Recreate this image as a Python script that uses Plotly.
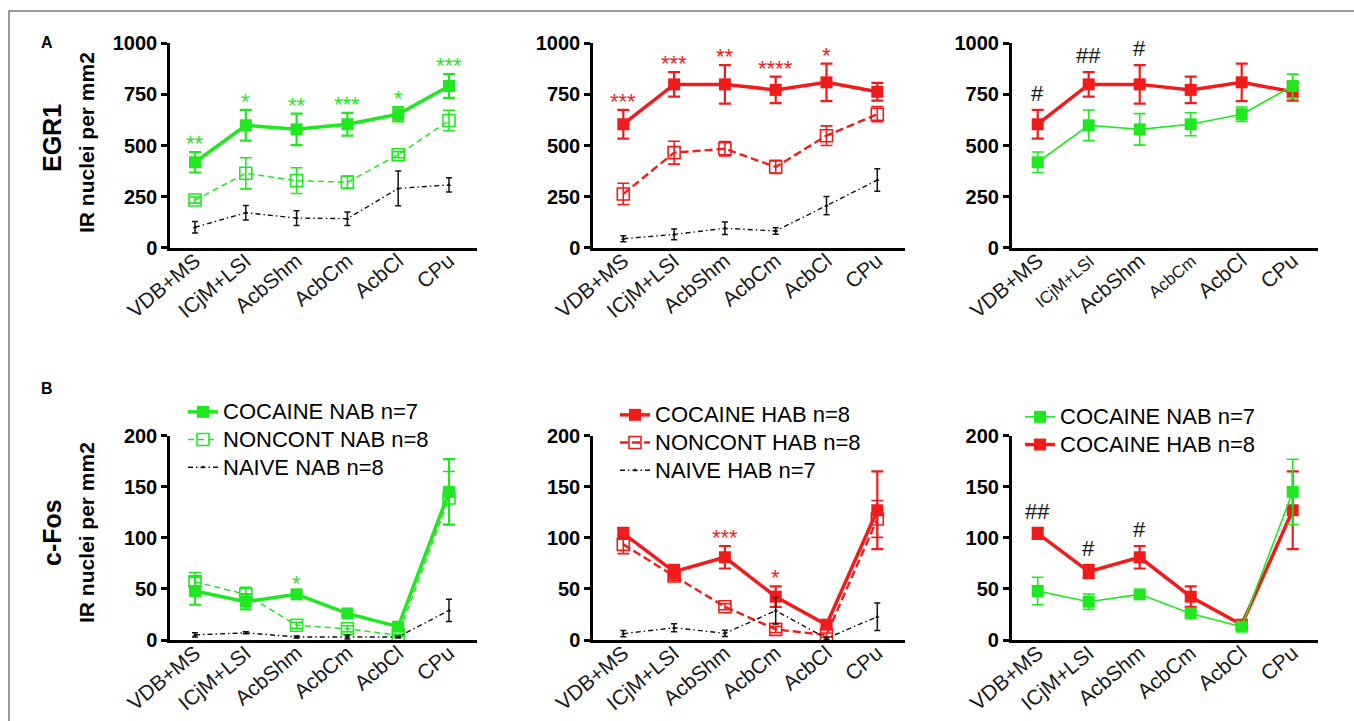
import plotly.graph_objects as go

W, H = 1354, 721

categories = ["VDB+MS", "ICjM+LSI", "AcbShm", "AcbCm", "AcbCl", "CPu"]
egr1_ticks = [0, 250, 500, 750, 1000]
cfos_ticks = [0, 50, 100, 150, 200]

# EGR1 (IR nuclei per mm2)
egr1_coc_nab = [418, 599, 579, 604, 653, 791]
egr1_coc_nab_err = [50, 75, 77, 56, 35, 58]
egr1_non_nab = [233, 364, 328, 320, 455, 622]
egr1_non_nab_err = [15, 76, 63, 30, 15, 50]
egr1_nai_nab = [100, 171, 145, 142, 290, 307]
egr1_nai_nab_err = [28, 36, 36, 33, 85, 35]

egr1_coc_hab = [604, 799, 799, 772, 809, 763]
egr1_coc_hab_err = [70, 60, 94, 65, 92, 43]
egr1_non_hab = [263, 465, 484, 395, 548, 653]
egr1_non_hab_err = [52, 56, 35, 32, 48, 37]
egr1_nai_hab = [44, 65, 95, 82, 206, 331]
egr1_nai_hab_err = [15, 26, 31, 16, 45, 55]

# c-Fos (IR nuclei per mm2)
cfos_coc_nab = [48, 37.5, 44.7, 26, 13, 145]
cfos_coc_nab_err = [13.5, 7.5, 2, 2, 3, 32]
cfos_non_nab = [57, 44.7, 14.4, 11, 4.5, 139]
cfos_non_nab_err = [9, 7, 3, 3, 1, 26]
cfos_nai_nab = [5, 7, 3, 3, 3, 29]
cfos_nai_nab_err = [2, 1, 1, 2, 1, 11]

cfos_coc_hab = [104.4, 67, 81, 42.4, 15, 127]
cfos_coc_hab_err = [5.5, 6.5, 11, 10, 3, 38]
cfos_non_hab = [93.6, 62.6, 32.6, 10.4, 4.9, 118.5]
cfos_non_hab_err = [9, 4, 3, 3, 2, 18]
cfos_nai_hab = [6.2, 12, 6.5, 28.7, 1.6, 22.8]
cfos_nai_hab_err = [3, 4, 3, 13, 1, 13.5]

# significance marks
egr1_stars_nab = ["**", "*", "**", "***", "*", "***"]
egr1_stars_hab = ["***", "***", "**", "****", "*", ""]
egr1_hash = ["#", "##", "#", "", "", ""]
cfos_stars_nab = ["", "", "*", "", "", ""]
cfos_stars_hab = ["", "", "***", "*", "", ""]
cfos_hash = ["##", "#", "#", "", "", ""]

GREEN = "#20E820"
RED = "#F01C1C"
BLACK = "#111111"
SANS = "Liberation Sans, Arial, sans-serif"

xpos = list(range(len(categories)))


def px_x(p):
    return p / W


def px_y(p):
    return 1 - p / H


# panel geometry (pixels): (axis left, first category x, axis right, spacing)
cols = [(170, 195, 477, 50.8), (593, 623.3, 905, 50.8), (1011.7, 1037.7, 1318.3, 51.0)]
rows = [(43.3, 247.7), (435.7, 640.0)]

# the top-right panel prints two of its region names smaller
small_ticktext = [t if t not in ("ICjM+LSI", "AcbCm") else f"<span style='font-size:17px'>{t}</span>"
                  for t in categories]

fig = go.Figure()
layout = dict(width=W, height=H,
              margin=dict(l=0, r=0, t=0, b=0, pad=0, autoexpand=False),
              paper_bgcolor="white", plot_bgcolor="white", showlegend=True)

axis_id = 0
axes = {}
xaxis_keys = []
for r, (ytop, ybot) in enumerate(rows):
    for c, (xl, x0, xr, sp) in enumerate(cols):
        axis_id += 1
        xa = "xaxis" if axis_id == 1 else f"xaxis{axis_id}"
        ya = "yaxis" if axis_id == 1 else f"yaxis{axis_id}"
        xs = "x" if axis_id == 1 else f"x{axis_id}"
        ys = "y" if axis_id == 1 else f"y{axis_id}"
        axes[(r, c)] = (xs, ys)
        xaxis_keys.append(xa)
        layout[xa] = dict(
            domain=[px_x(xl), px_x(xr)], anchor=ys, automargin=False,
            range=[(xl - x0) / sp, (xr - x0) / sp],
            tickmode="array", tickvals=xpos,
            ticktext=small_ticktext if (r == 0 and c == 2) else categories,
            tickangle=-40, ticks="", ticklen=0, showgrid=False, zeroline=False,
            showline=True, linecolor="black", linewidth=2.5,
            tickfont=dict(family=SANS, size=21, color="#1a1a1a"),
        )
        ticks = egr1_ticks if r == 0 else cfos_ticks
        layout[ya] = dict(
            domain=[px_y(ybot), px_y(ytop)], anchor=xs, automargin=False,
            range=[ticks[0], ticks[-1]], tickmode="array", tickvals=ticks,
            ticks="outside", ticklen=6, tickwidth=2.5, tickcolor="black",
            showgrid=False, zeroline=False, showline=True, linecolor="black",
            linewidth=2.5,
            tickfont=dict(family=SANS, size=20, color="black", weight="bold"),
        )


def add_series(r, c, y, err, name, kind, color, legend=None, thin=False):
    xs, ys = axes[(r, c)]
    if kind == "coc":
        line = dict(color=color, width=1.6 if thin else 3.5)
        marker = dict(symbol="square", size=12, color=color)
        ew, ec, cw = (1.6 if thin else 2.2), color, 6
    elif kind == "non":
        if color == RED:
            line = dict(color=color, width=2.4, dash="8px,4px")
        else:
            line = dict(color=color, width=1.5, dash="6px,4px")
        marker = dict(symbol="square-open", size=12, color=color, line=dict(width=1.6, color=color))
        ew, ec, cw = 1.6, color, 6
    else:
        line = dict(color=BLACK, width=1.4, dash="5px,3px,1.5px,3px")
        marker = dict(symbol="triangle-up", size=4, color=BLACK)
        ew, ec, cw = 1.5, BLACK, 3
    fig.add_trace(go.Scatter(
        x=xpos, y=y, name=f"<span style='font-size:22px'>{name}</span>",
        mode="lines+markers", line=line, marker=marker,
        error_y=dict(type="data", array=err, visible=True, color=ec, thickness=ew, width=cw),
        xaxis=xs, yaxis=ys, cliponaxis=False,
        showlegend=legend is not None, legend=legend if legend else "legend",
    ))


# Row A (EGR1)
add_series(0, 0, egr1_nai_nab, egr1_nai_nab_err, "NAIVE NAB n=8", "nai", BLACK)
add_series(0, 0, egr1_non_nab, egr1_non_nab_err, "NONCONT NAB n=8", "non", GREEN)
add_series(0, 0, egr1_coc_nab, egr1_coc_nab_err, "COCAINE NAB n=7", "coc", GREEN)
add_series(0, 1, egr1_nai_hab, egr1_nai_hab_err, "NAIVE HAB n=7", "nai", BLACK)
add_series(0, 1, egr1_non_hab, egr1_non_hab_err, "NONCONT HAB n=8", "non", RED)
add_series(0, 1, egr1_coc_hab, egr1_coc_hab_err, "COCAINE HAB n=8", "coc", RED)
add_series(0, 2, egr1_coc_hab, egr1_coc_hab_err, "COCAINE HAB n=8", "coc", RED)
add_series(0, 2, egr1_coc_nab, egr1_coc_nab_err, "COCAINE NAB n=7", "coc", GREEN, thin=True)

# Row B (c-Fos)
add_series(1, 0, cfos_coc_nab, cfos_coc_nab_err, "COCAINE NAB n=7", "coc", GREEN, legend="legend")
add_series(1, 0, cfos_non_nab, cfos_non_nab_err, "NONCONT NAB n=8", "non", GREEN, legend="legend")
add_series(1, 0, cfos_nai_nab, cfos_nai_nab_err, "NAIVE NAB n=8", "nai", BLACK, legend="legend")
add_series(1, 1, cfos_coc_hab, cfos_coc_hab_err, "COCAINE HAB n=8", "coc", RED, legend="legend2")
add_series(1, 1, cfos_non_hab, cfos_non_hab_err, "NONCONT HAB n=8", "non", RED, legend="legend2")
add_series(1, 1, cfos_nai_hab, cfos_nai_hab_err, "NAIVE HAB n=7", "nai", BLACK, legend="legend2")
add_series(1, 2, cfos_coc_hab, cfos_coc_hab_err, "COCAINE HAB n=8", "coc", RED, legend="legend3")
add_series(1, 2, cfos_coc_nab, cfos_coc_nab_err, "COCAINE NAB n=7", "coc", GREEN, legend="legend3", thin=True)

leg_common = dict(font=dict(family=SANS, size=19, color="black"), bgcolor="rgba(0,0,0,0)",
                  xanchor="left", yanchor="top", tracegroupgap=0, itemclick=False,
                  borderwidth=0)
layout["legend"] = dict(leg_common, x=px_x(183), y=px_y(393))
layout["legend2"] = dict(leg_common, x=px_x(615), y=px_y(396))
layout["legend3"] = dict(leg_common, x=px_x(1020), y=px_y(398), traceorder="reversed")

annotations = []


def marks(r, c, labels, means, errs, color, size=22):
    xs, ys = axes[(r, c)]
    for i, t in enumerate(labels):
        if not t:
            continue
        annotations.append(dict(
            x=xpos[i], y=means[i] + errs[i], xref=xs, yref=ys, text=t, showarrow=False,
            xanchor="center", yanchor="bottom", yshift=-6 if t[0] == "*" else 2,
            font=dict(family=SANS, size=size, color=color)))


marks(0, 0, egr1_stars_nab, egr1_coc_nab, egr1_coc_nab_err, GREEN)
marks(0, 1, egr1_stars_hab, egr1_coc_hab, egr1_coc_hab_err, RED)
marks(0, 2, egr1_hash, egr1_coc_hab, egr1_coc_hab_err, BLACK)
marks(1, 0, cfos_stars_nab, cfos_coc_nab, cfos_coc_nab_err, GREEN)
marks(1, 1, cfos_stars_hab, cfos_coc_hab, cfos_coc_hab_err, RED)
marks(1, 2, cfos_hash, cfos_coc_hab, cfos_coc_hab_err, BLACK)

# panel letters and axis titles
for txt, x, y in [("A", 47, 43), ("B", 47, 388)]:
    annotations.append(dict(text=txt, x=px_x(x), y=px_y(y), xref="paper", yref="paper",
                            showarrow=False, xanchor="center", yanchor="middle",
                            font=dict(family=SANS, size=16, color="black", weight="bold")))
for txt, x, y, s in [("EGR1", 52, 138, 25), ("IR nuclei per mm2", 86, 143, 21),
                     ("c-Fos", 52, 533, 25), ("IR nuclei per mm2", 86, 533, 21)]:
    annotations.append(dict(text=txt, x=px_x(x), y=px_y(y), xref="paper", yref="paper",
                            showarrow=False, textangle=-90, xanchor="center", yanchor="middle",
                            font=dict(family=SANS, size=s, color="black", weight="bold")))

layout["annotations"] = annotations
layout["shapes"] = [dict(type="rect", xref="paper", yref="paper", x0=px_x(9), x1=px_x(1400),
                         y0=px_y(11), y1=px_y(760), line=dict(color="#777777", width=1.5),
                         fillcolor="rgba(0,0,0,0)", layer="below")]

fig.update_layout(**layout)
# pull the slanted region names up towards the axis line
for xa in xaxis_keys:
    try:
        fig.update_layout({xa: dict(ticklabelstandoff=-10)})
    except (ValueError, TypeError):
        pass
fig.write_html(
    "out.html",
    config={"displayModeBar": False},
    post_script="document.body.style.margin='0';document.body.style.overflow='hidden';",
)
